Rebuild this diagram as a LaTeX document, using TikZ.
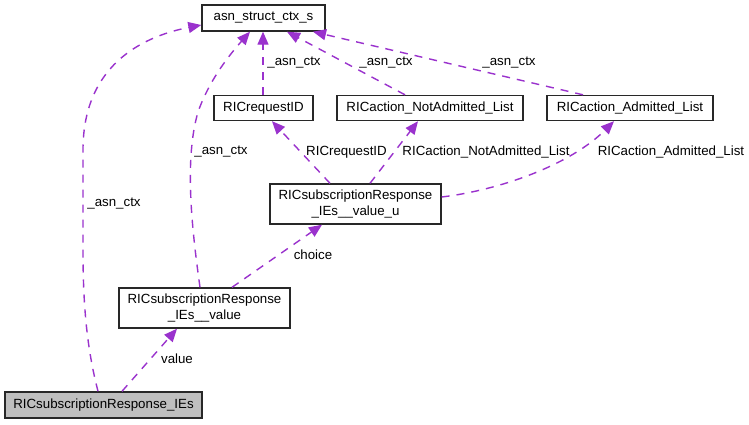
\documentclass[tikz,border=0pt]{standalone}
\usepackage{fontspec}
\setmainfont{Liberation Sans}
\usetikzlibrary{arrows.meta}
\definecolor{edgec}{RGB}{154,50,205}
\definecolor{fillg}{RGB}{191,191,191}
\definecolor{bordc}{RGB}{40,40,40}
\begin{document}
\begin{tikzpicture}[x=1pt,y=-1pt,
  box/.style={draw=bordc,line width=1.4pt,fill=white,inner sep=0pt,align=center,
    font=\fontsize{13.3}{16}\selectfont},
  lbl/.style={font=\fontsize{13.3}{16}\selectfont,inner sep=0pt},
  rel/.style={draw=edgec,line width=1.4pt,dash pattern=on 8pt off 7pt,
    -{Triangle[length=13pt,width=11pt]},shorten >=0pt}]
\path[use as bounding box,fill=white] (0,0) rectangle (749,424);
\node[box,minimum width=123pt,minimum height=26pt] (asn) at (263.5,18) {asn\_struct\_ctx\_s};
\node[box,minimum width=99pt,minimum height=25pt] (req) at (263.5,108) {RICrequestID};
\node[box,minimum width=186pt,minimum height=25pt] (na) at (430,108) {RICaction\_NotAdmitted\_List};
\node[box,minimum width=166pt,minimum height=25pt] (ad) at (630,108) {RICaction\_Admitted\_List};
\node[box,minimum width=171pt,minimum height=40pt] (vu) at (355.5,204) {RICsubscriptionResponse\\\_IEs\_\_value\_u};
\node[box,minimum width=171pt,minimum height=40pt] (val) at (204.5,308) {RICsubscriptionResponse\\\_IEs\_\_value};
\node[box,fill=fillg,minimum width=197pt,minimum height=26pt] (ies) at (103.5,405) {RICsubscriptionResponse\_IEs};
% edges
\draw[rel] ([xshift=-5.5]ies.north) .. controls (86,345) and (83,300) .. (83,250) -- (83,150)
   .. controls (83,60) and (150,35) .. ([yshift=-7]asn.west);
\draw[rel] ([xshift=18.5]ies.north) -- ([xshift=-27.5]val.south);
\draw[rel] ([xshift=-4.5]val.north) .. controls (192,230) and (184,160) .. (198,112)
   .. controls (210,78) and (232,52) .. ([xshift=-13.5]asn.south);
\draw[rel] ([xshift=27.5]val.north) -- ([xshift=-33.5]vu.south);
\draw[rel] ([xshift=-25.5]vu.north) -- ([xshift=8.5]req.south);
\draw[rel] ([xshift=14.5]vu.north) -- ([xshift=-12]na.south);
\draw[rel] ([yshift=7]vu.east) .. controls (500,190) and (570,165) .. ([xshift=-16]ad.south);
\draw[rel] ([xshift=-0.5]req.north) -- ([xshift=-0.5]asn.south);
\draw[rel] ([xshift=-25]na.north) -- ([xshift=23.5]asn.south);
\draw[rel] ([xshift=-47]ad.north) -- ([xshift=49.5]asn.south);
% labels
\node[lbl] (l1) at (114,204) {\_asn\_ctx};
\node[lbl] (l2) at (177,359) {value};
\node[lbl] (l3) at (221,152) {\_asn\_ctx};
\node[lbl] (l4) at (313,255) {choice};
\node[lbl] (l5) at (346.5,152) {RICrequestID};
\node[lbl] (l6) at (486,152) {RICaction\_NotAdmitted\_List};
\node[lbl] (l7) at (671,152) {RICaction\_Admitted\_List};
\node[lbl] (l8) at (294,63) {\_asn\_ctx};
\node[lbl] (l9) at (386,63) {\_asn\_ctx};
\node[lbl] (l10) at (509,63) {\_asn\_ctx};
\end{tikzpicture}
\end{document}
